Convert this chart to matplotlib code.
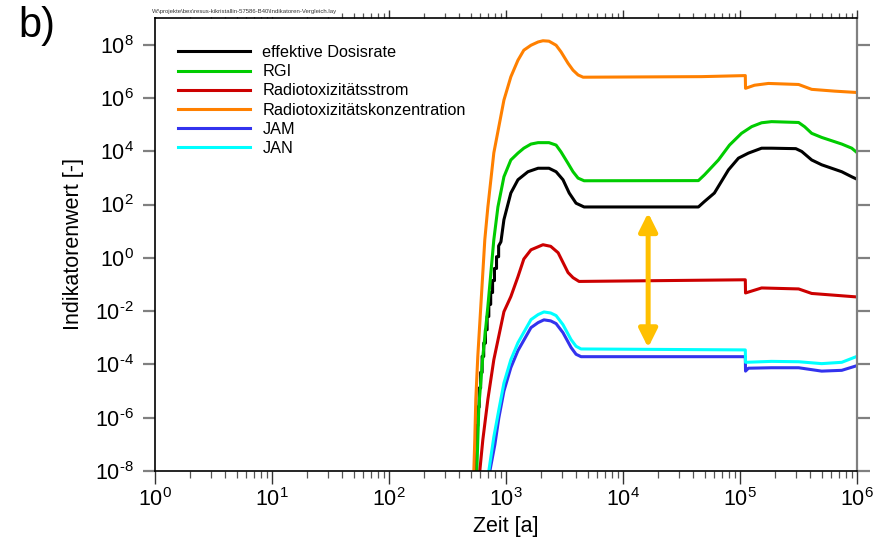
import numpy as np
import matplotlib
matplotlib.use('Agg')
import matplotlib.pyplot as plt
from matplotlib.ticker import LogLocator, NullFormatter, FixedLocator

plt.rcParams['font.family'] = ['Liberation Sans', 'DejaVu Sans']
plt.rcParams['mathtext.fontset'] = 'custom'
plt.rcParams['mathtext.rm'] = 'Liberation Sans'

# Zeit [a] und Indikatorwerte
t_orange = [531, 541, 552, 574, 609, 659, 700, 787, 960, 1100, 1265, 1420, 1635, 1880, 2070,
            2330, 2680, 2950, 3390, 3740, 4130, 4560, 46800, 111000, 111500, 133000, 175000,
            317000, 410000, 645000, 1e6]
v_orange = [1e-8, 1.5e-7, 4.9e-6, 2.0e-4, 1.5e-2, 4.8, 81, 8.7e3, 8.3e5, 6.2e6, 2.6e7, 6.2e7,
            9.5e7, 1.26e8, 1.4e8, 1.35e8, 9.5e7, 5.4e7, 2.0e7, 1.1e7, 7.3e6, 6.0e6, 6.3e6, 6.9e6,
            2.3e6, 3.0e6, 3.5e6, 3.2e6, 2.1e6, 1.8e6, 1.6e6]

t_green = [563, 586, 634, 700, 787, 853, 960, 1100, 1265, 1420, 1635, 1880, 2330, 2680, 2950,
           3390, 3740, 4130, 4650, 44100, 49700, 65400, 81300, 103000, 126000, 153000, 186000,
           317000, 357000, 410000, 499000, 741000, 902000, 1e6]
v_green = [1e-8, 2.6e-6, 2.0e-4, 1.5e-2, 4.8, 81, 1.1e3, 4.7e3, 8.5e3, 1.3e4, 1.86e4, 2.1e4,
           2.1e4, 1.7e4, 9.5e3, 3.5e3, 1.7e3, 980, 780, 790, 1.3e3, 4.7e3, 1.7e4, 4.7e4, 8.4e4,
           1.17e5, 1.29e5, 1.2e5, 8.3e4, 4.7e4, 3.3e4, 1.86e4, 1.3e4, 8.9e3]

t_black = [552, 552, 560, 560, 574, 574, 590, 590, 607, 607, 625, 625, 645, 645, 667, 667,
           690, 690, 713, 713, 740, 740, 768, 768, 797, 797, 830, 830, 865, 865, 905,
           960, 1100, 1265, 1540, 1880, 2330, 2680, 3070, 3470, 3970, 4650, 44100, 49700,
           60400, 79700, 97000, 118000, 153000, 186000, 300000, 337000, 410000, 499000,
           741000, 902000, 1e6]
v_black = [1e-8, 1e-7, 1e-7, 5e-7, 5e-7, 2.5e-6, 2.5e-6, 1.3e-5, 1.3e-5, 5e-5, 5e-5, 2e-4,
           2e-4, 6.3e-4, 6.3e-4, 2e-3, 2e-3, 6.3e-3, 6.3e-3, 1.8e-2, 1.8e-2, 5e-2, 5e-2, 0.14,
           0.14, 0.4, 0.4, 1.1, 1.1, 2.8, 4.0,
           27, 270, 850, 1.7e3, 2.3e3, 2.3e3, 1.7e3, 850, 270, 112, 81, 81, 130,
           270, 2.0e3, 5.5e3, 8.5e3, 1.3e4, 1.3e4, 1.25e4, 9.8e3, 4.7e3, 3.1e3,
           1.7e3, 1.1e3, 890]

t_red = [597, 634, 700, 787, 960, 1100, 1265, 1420, 1635, 2070, 2410, 2790, 3390, 3740, 4210,
         111000, 111500, 153000, 317000, 410000, 1e6]
v_red = [1e-8, 1.5e-7, 4.9e-6, 1.5e-4, 9.5e-3, 3.5e-2, 0.195, 0.9, 2.0, 3.1, 2.7, 1.55,
         0.28, 0.18, 0.13, 0.15, 0.048, 0.074, 0.068, 0.046, 0.034]

t_blue = [728, 804, 869, 960, 1100, 1265, 1635, 1880, 2110, 2410, 2680, 3070, 3600, 3970,
          4380, 111000, 111500, 118000, 186000, 317000, 499000, 741000, 1e6]
v_blue = [1e-8, 1e-7, 1e-6, 1e-5, 7.6e-5, 3.3e-4, 2.4e-3, 3.7e-3, 4.7e-3, 4.3e-3, 3.4e-3,
          1.55e-3, 4.3e-4, 2.4e-4, 1.95e-4, 1.95e-4, 5.6e-5, 7.2e-5, 7.5e-5, 7.5e-5, 5.6e-5,
          6.0e-5, 9.0e-5]

t_cyan = [713, 787, 869, 960, 1100, 1265, 1635, 1880, 2110, 2410, 2680, 3070, 3600, 3970,
          4380, 111000, 111500, 186000, 317000, 499000, 741000, 1e6]
v_cyan = [1e-8, 1.9e-7, 2.0e-6, 2.0e-5, 1.5e-4, 6.5e-4, 4.8e-3, 7.4e-3, 9.3e-3, 8.5e-3,
          6.8e-3, 3.1e-3, 8.5e-4, 4.8e-4, 3.8e-4, 3.5e-4, 1.2e-4, 1.3e-4, 1.26e-4, 1.07e-4,
          1.2e-4, 2.0e-4]

series = [
    ('effektive Dosisrate', t_black, v_black, 'black'),
    ('RGI', t_green, v_green, '#00cc00'),
    ('Radiotoxizitätsstrom', t_red, v_red, '#cc0000'),
    ('Radiotoxizitätskonzentration', t_orange, v_orange, '#ff8000'),
    ('JAM', t_blue, v_blue, '#3333ee'),
    ('JAN', t_cyan, v_cyan, '#00ffff'),
]

arrow_t = 1.64e4
arrow_top = 10 ** 1.69
arrow_bottom = 10 ** -3.37

fig = plt.figure(figsize=(8.85, 5.43), dpi=100)
ax = fig.add_axes([155 / 885, 1 - 471 / 543, 702 / 885, 453 / 543])

handles = []
for name, t, v, c in series:
    h, = ax.plot(t, v, color=c, lw=2.2, label=name)
    handles.append(h)

ax.annotate('', xy=(arrow_t, arrow_top), xytext=(arrow_t, arrow_bottom),
            arrowprops=dict(arrowstyle='<|-|>,head_length=1.1,head_width=0.55',
                            lw=3.6, color='#ffc000', shrinkA=0, shrinkB=0,
                            mutation_scale=10))

ax.set_xscale('log')
ax.set_yscale('log')
ax.set_xlim(1, 1e6)
ax.set_ylim(1e-8, 1e9)


def label(k):
    s = str(k).replace('-', '\u2010')
    return r'$\mathregular{10^{%s}}$' % s


ax.set_xticks([10.0 ** k for k in range(0, 7)])
ax.set_xticklabels([label(k) for k in range(0, 7)])
ax.xaxis.set_minor_locator(LogLocator(base=10, subs=np.arange(2, 10), numticks=20))
ax.xaxis.set_minor_formatter(NullFormatter())
ax.set_yticks([10.0 ** k for k in range(-8, 9, 2)])
ax.set_yticklabels([label(k) for k in range(-8, 9, 2)])
ax.yaxis.set_minor_locator(FixedLocator([]))

ax.tick_params(axis='x', which='major', direction='out', length=9, width=1,
               color='#333333', labelsize=15.5, pad=3)
ax.tick_params(axis='x', which='minor', direction='out', length=5, width=0.9,
               color='#555555')
ax.tick_params(axis='y', which='major', direction='out', length=9, width=1.6,
               color='#808080', labelsize=15.5, pad=6, right=True)

for s in ['left', 'bottom', 'top']:
    ax.spines[s].set_color('black')
    ax.spines[s].set_linewidth(1.2)
ax.spines['right'].set_color('#808080')
ax.spines['right'].set_linewidth(1.6)

top = ax.secondary_xaxis('top')
top.set_xticks([10.0 ** k for k in range(0, 7)])
top.xaxis.set_minor_locator(LogLocator(base=10, subs=np.arange(2, 10), numticks=20))
top.xaxis.set_minor_formatter(NullFormatter())
top.tick_params(which='major', direction='out', length=6, width=1, color='#333333',
                labeltop=False)
top.tick_params(which='minor', direction='out', length=3.5, width=0.9, color='#555555')
top.spines['top'].set_visible(False)

ax.set_xlabel('Zeit [a]', fontsize=15.5, labelpad=4)
ax.set_ylabel('Indikatorenwert [-]', fontsize=15.5, labelpad=8)

fig.legend(handles=handles, loc='upper left', bbox_to_anchor=(178 / 885, 1 - 45 / 543),
           frameon=False, fontsize=11.7, borderpad=0, borderaxespad=0,
           handlelength=4.4, handletextpad=0.8, labelspacing=0.26)

fig.text(18 / 885, 1 - 6 / 543, 'b)', fontsize=30, va='top', ha='left')
fig.text(152 / 885, 1 - 12 / 543,
         'W:\\projekte\\bex\\resus-kikristallin-57586-B40\\Indikatoren-Vergleich.lay',
         fontsize=4.3, va='center', ha='left', color='#333333',
         bbox=dict(facecolor='white', edgecolor='none', pad=1.5))

fig.savefig('out.png', dpi=100)
